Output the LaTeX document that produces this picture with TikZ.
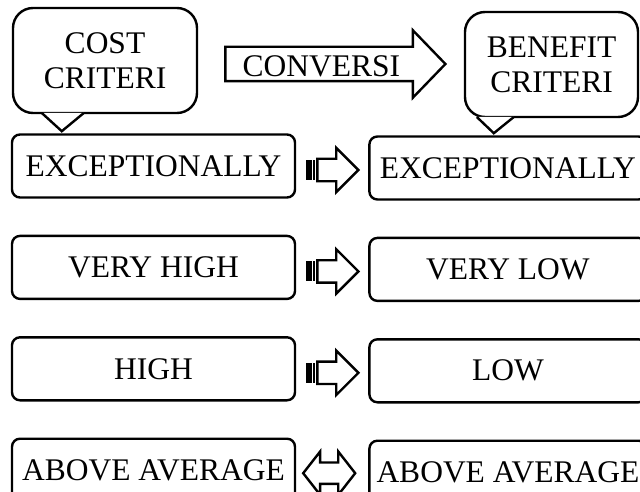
\documentclass[tikz,border=0pt]{standalone}
\usepackage{fontspec}
\setmainfont{Liberation Serif}
\usetikzlibrary{shapes.arrows, positioning, calc}

\begin{document}
\begin{tikzpicture}[
    x=1pt, y=-1pt,
    line width=2.4pt,
    node distance=36pt,
    every node/.style={font=\fontsize{31.5}{35}\selectfont},
    bubble/.style={draw, rectangle, rounded corners=20pt, minimum height=105pt, align=center, inner sep=0pt},
    grade/.style={draw, rectangle, rounded corners=8pt, minimum width=283pt, minimum height=63pt, inner sep=0pt},
    bigarrow/.style={draw, single arrow, single arrow head extend=16.5pt, single arrow tip angle=92, text width=195pt, align=left, inner xsep=3pt, inner ysep=3pt, text height=26pt, text depth=0pt, anchor=tail},
    convarrow/.style={draw, single arrow, single arrow head extend=11pt, single arrow tip angle=90, minimum height=41pt, inner xsep=0pt, inner ysep=10pt, anchor=tail},
    bothways/.style={draw, double arrow, double arrow head extend=11pt, double arrow tip angle=104, minimum height=52pt, inner xsep=0pt, inner ysep=9.5pt}
]
    \useasboundingbox (0,0) rectangle (640,492);

    % Criteria bubbles
    \node[bubble, minimum width=184pt] (cost) at (105,60.5) {COST\\CRITERI};
    \node[bubble, minimum width=173pt] (benefit) at (551.5,64.5) {BENEFIT\\CRITERI};

    % Bubble pointers
    \coordinate (costtip) at ($(cost.south west)+(50,17)$);
    \draw[fill=white] ($(cost.south west)+(30,-1.2)$) -- (costtip) -- ($(cost.south west)+(72,-1.2)$);
    \coordinate (benefittip) at ($(benefit.south west)+(30,15)$);
    \draw[fill=white] ($(benefit.south west)+(13,-1.2)$) -- (benefittip) -- ($(benefit.south west)+(50,-1.2)$);

    % Conversion arrow
    \node[bigarrow] (conv) at ($(cost.east)+(26,3.5)$) {\hspace*{13pt}CONVERSI};

    % Cost grades
    \node[grade] (exc) at (153.5,166) {EXCEPTIONALLY};
    \node[grade, below=of exc] (vhigh) {VERY HIGH};
    \node[grade, below=of vhigh] (high) {HIGH};
    \node[grade, below=of high] (above) {ABOVE AVERAGE};

    % Benefit grades
    \node[grade, minimum width=277pt, right=72pt of exc, yshift=-2pt] (excb) {EXCEPTIONALLY};
    \node[grade, minimum width=277pt, right=72pt of vhigh, yshift=-2pt] (vlow) {VERY LOW};
    \node[grade, minimum width=277pt, right=72pt of high, yshift=-2pt] (low) {LOW};
    \node[grade, minimum width=277pt, right=72pt of above, yshift=-2pt] (aboveb) {ABOVE AVERAGE};

    % Striped arrows between the columns
    \foreach \src/\arr in {exc/ar1, vhigh/ar2, high/ar3} {
        \node[convarrow] (\arr) at ($(\src.east)+(20,4)$) {};
        \fill ($(\arr.tail)+(-10,-10)$) rectangle ($(\arr.tail)+(-4,10)$);
        \fill ($(\arr.tail)+(-3,-10)$) rectangle ($(\arr.tail)+(-1,10)$);
    }

    % Equal grade
    \node[bothways] (ar4) at ($(above.east)!0.5!(aboveb.west)+(-3,2)$) {};

\end{tikzpicture}
\end{document}
